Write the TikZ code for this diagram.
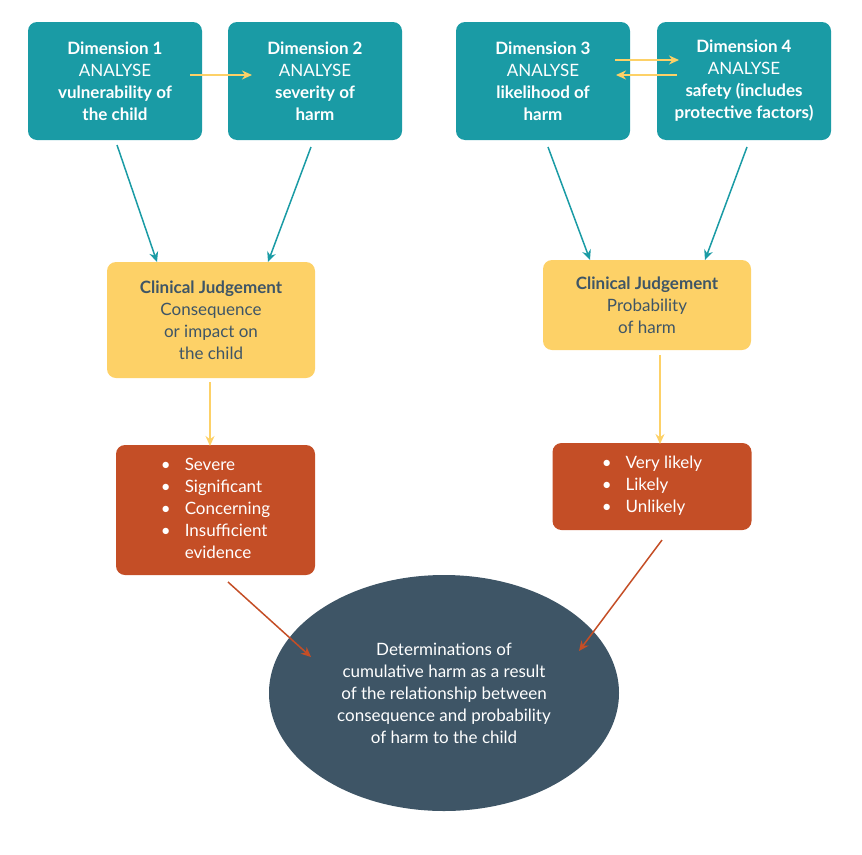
\documentclass[tikz,border=0pt]{standalone}
\usepackage{fontspec}
\setmainfont{Lato}
\usetikzlibrary{arrows.meta,shapes.geometric}
\definecolor{teal}{HTML}{1A9BA5}
\definecolor{yel}{HTML}{FDD167}
\definecolor{rust}{HTML}{C44E26}
\definecolor{slate}{HTML}{3E5566}
\begin{document}
\begin{tikzpicture}[x=1pt,y=-1pt,
 dim/.style={fill=teal,rounded corners=9pt,minimum width=174pt,minimum height=118pt,text=white,align=center,font=\fontsize{17}{22}\selectfont,inner sep=2pt},
 cj/.style={fill=yel,rounded corners=9pt,minimum width=208pt,text=slate,align=center,font=\fontsize{17}{22}\selectfont},
 rd/.style={fill=rust,rounded corners=9pt,minimum width=199pt,text=white,font=\fontsize{17}{22}\selectfont},
 ta/.style={draw=teal,line width=1.5pt,-{Stealth[length=10pt,width=9pt]}},
 ya/.style={draw=yel,line width=1.5pt,-{Stealth[length=10pt,width=9pt]}},
 ra/.style={draw=rust,line width=1.5pt,-{Stealth[length=10pt,width=9pt]}}]
\useasboundingbox (0,0) rectangle (862,854);
\node[dim] (d1) at (115,81) {\textbf{Dimension 1}\\ANALYSE\\\textbf{vulnerability of}\\\textbf{the child}};
\node[dim] (d2) at (315,81) {\textbf{Dimension 2}\\ANALYSE\\\textbf{severity of}\\\textbf{harm}};
\node[dim] (d3) at (543,81) {\textbf{Dimension 3}\\ANALYSE\\\textbf{likelihood of}\\\textbf{harm}};
\node[dim] (d4) at (744,81) {\textbf{Dimension 4}\\ANALYSE\\\textbf{safety (includes}\\\textbf{protective factors)}};
\node[cj,minimum height=116pt] (c1) at (211,320) {\textbf{Clinical Judgement}\\Consequence\\or impact on\\the child};
\node[cj,minimum height=90pt] (c2) at (647,305) {\textbf{Clinical Judgement}\\Probability\\of harm};
\node[rd,minimum height=130pt] (r1) at (215.5,510) {\begin{tabular}{@{}l@{\hspace{14pt}}l@{}}\textbullet&Severe\\\textbullet&Significant\\\textbullet&Concerning\\\textbullet&Insufficient\\&evidence\end{tabular}};
\node[rd,minimum height=87pt] (r2) at (652,486.5) {\begin{tabular}{@{}l@{\hspace{14pt}}l@{}}\textbullet&Very likely\\\textbullet&Likely\\\textbullet&Unlikely\end{tabular}\hspace{50pt}};
\node[ellipse,fill=slate,minimum width=350pt,minimum height=236pt,text=white,align=center,font=\fontsize{17}{22}\selectfont] (e) at (444,693) {Determinations of\\cumulative harm as a result\\of the relationship between\\consequence and probability\\of harm to the child};
\coordinate (a1) at (117,145); \coordinate (b1) at (157,262);
\coordinate (a2) at (311,147); \coordinate (b2) at (268,262);
\coordinate (a3) at (548,147); \coordinate (b3) at (590,260);
\coordinate (a4) at (747,147); \coordinate (b4) at (705,260);
\draw[ta] (a1)--(b1); \draw[ta] (a2)--(b2); \draw[ta] (a3)--(b3); \draw[ta] (a4)--(b4);
\coordinate (y1) at (190,75); \coordinate (y2) at (252,75);
\draw[ya] (y1)--(y2);
\coordinate (y3) at (615,60); \coordinate (y4) at (679,60);
\coordinate (y5) at (677,75); \coordinate (y6) at (616,75);
\draw[ya] (y3)--(y4); \draw[ya] (y5)--(y6);
\coordinate (y7) at (210,382); \coordinate (y8) at (210,446);
\coordinate (y9) at (660,355); \coordinate (y10) at (660,444);
\draw[ya] (y7)--(y8); \draw[ya] (y9)--(y10);
\coordinate (r1a) at (228,582); \coordinate (r1b) at (311,657);
\coordinate (r2a) at (662,540); \coordinate (r2b) at (579,651);
\draw[ra] (r1a)--(r1b); \draw[ra] (r2a)--(r2b);
\end{tikzpicture}
\end{document}
